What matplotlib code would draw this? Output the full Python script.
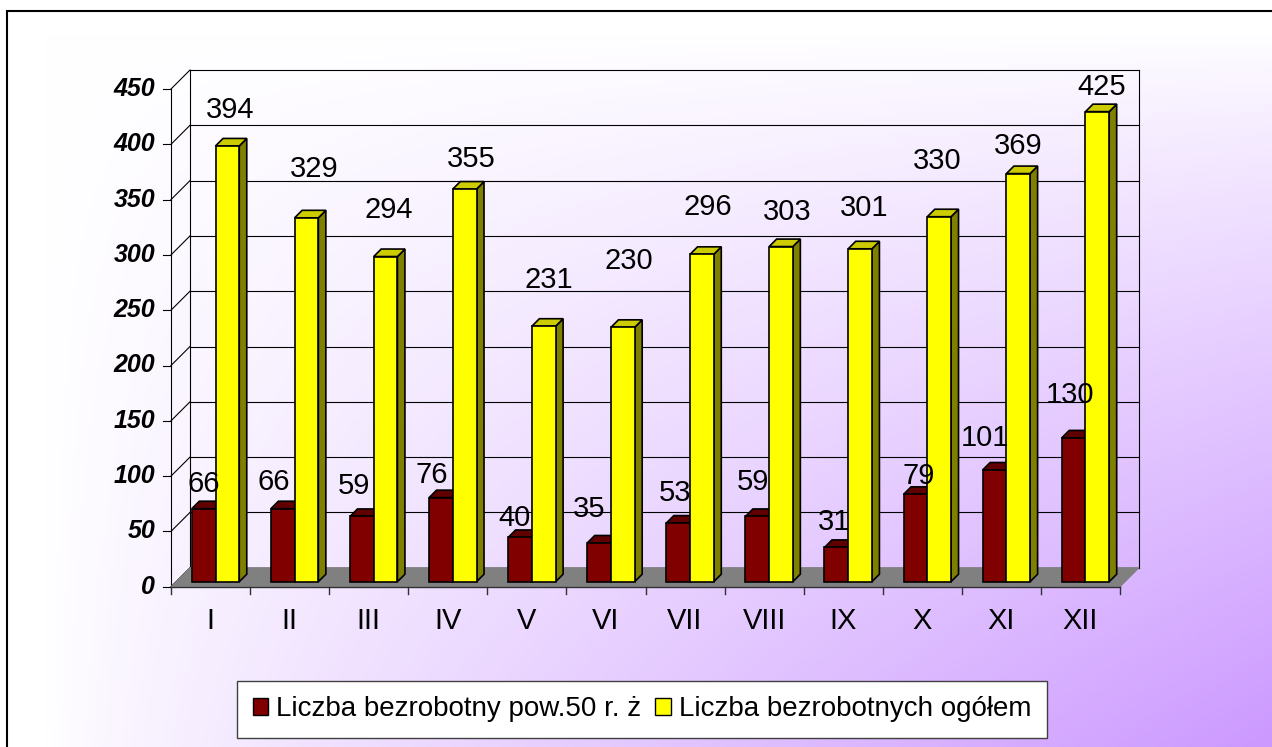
import numpy as np
import matplotlib
matplotlib.use("Agg")
import matplotlib.pyplot as plt
from matplotlib.patches import Polygon, Rectangle
from matplotlib.colors import to_rgb

months = ["I", "II", "III", "IV", "V", "VI", "VII", "VIII", "IX", "X", "XI", "XII"]
over50 = [66, 66, 59, 76, 40, 35, 53, 59, 31, 79, 101, 130]
total = [394, 329, 294, 355, 231, 230, 296, 303, 301, 330, 369, 425]
series_names = ["Liczba bezrobotny pow.50 r. ż", "Liczba bezrobotnych ogółem"]
y_ticks = list(range(0, 451, 50))

# label nudges in pixels: (dx, height of label centre above bar top)
over50_nudge = [(0, 25), (-9, 27), (-8, 30), (-9, 23), (-6, 19), (-10, 34),
                (-3, 30), (-4, 34), (-2, 25), (3, 18), (-10, 32), (-4, 43)]
total_nudge = [(3, 36), (8, 49), (3, 47), (7, 30), (5, 46), (6, 66),
               (6, 47), (6, 35), (4, 41), (-2, 56), (0, 28), (4, 25)]

# front, top, side colours
maroon = ("#800000", "#600000", "#400000")
yellow = ("#ffff00", "#cccc00", "#808000")

plt.rcParams['font.family'] = ['Liberation Sans', 'DejaVu Sans']

W, H = 1272, 747
fig = plt.figure(figsize=(W / 100, H / 100), dpi=100)

# background gradient (white -> lilac in the bottom right corner)
bg = fig.add_axes([40 / W, 0, 1 - 40 / W, (H - 31) / H], zorder=-1)
u = np.linspace(0, 1, 300)[None, :]
v = np.linspace(0, 1, 200)[::-1, None]
t = ((u * v) ** 0.85)[..., None]
white = np.array(to_rgb("#ffffff"))
lilac = np.array(to_rgb("#cc99ff"))
bg.imshow(white * (1 - t) + lilac * t, aspect='auto', extent=(0, 1, 0, 1), origin='lower')
bg.axis('off')

# outer border
fig.patches.append(Rectangle((7 / W, -0.1), 1.2, (H - 11) / H + 0.1, transform=fig.transFigure,
                             fill=False, ec='black', lw=1.5))

n = len(months)
ax_px_w, ax_px_h = 949, 497.7
ax = fig.add_axes([171 / W, (H - 586.7) / H, ax_px_w / W, ax_px_h / H])
ax.set_xlim(0, n)
ax.set_ylim(0, 450)
ax.axis('off')
sx = n / ax_px_w      # data units per pixel
sy = 450 / ax_px_h
DX, DY = 19 * sx, 19 * sy

# back wall and side wall
for val in y_ticks:
    ax.plot([DX, n + DX], [val + DY, val + DY], color='black', lw=0.8, clip_on=False, zorder=1)
    ax.plot([0, DX], [val, val + DY], color='black', lw=0.8, clip_on=False, zorder=1)
    ax.plot([-8 * sx, 0], [val, val], color='black', lw=0.8, clip_on=False, zorder=1)
    ax.text(-16 * sx, val, str(val), ha='right', va='center', fontsize=18,
            weight='bold', style='italic')
ax.plot([DX, DX], [DY, 450 + DY], color='black', lw=0.8, clip_on=False, zorder=1)
ax.plot([n + DX, n + DX], [DY, 450 + DY], color='black', lw=0.8, clip_on=False, zorder=1)
ax.plot([0, 0], [0, 450], color='black', lw=0.8, clip_on=False, zorder=1)

# floor
ax.add_patch(Polygon([(0, 0), (n, 0), (n + DX, DY), (DX, DY)], closed=True,
                     fc='#808080', ec='#808080', lw=0.8, clip_on=False, zorder=2))
ax.plot([0, n], [0, 0], color='#303030', lw=1, clip_on=False, zorder=2)
for i in range(n + 1):
    ax.plot([i, i], [0, -7 * sy], color='#303030', lw=1, clip_on=False, zorder=2)
for i, m in enumerate(months):
    ax.text(i + 0.5, -34 * sy, m, ha='center', va='center', fontsize=21)

# bars
w = 0.3
f0, d = 5, 7.5


def bar3d(x0, val, cols):
    bx, by = x0 + f0 * sx, f0 * sy
    ddx, ddy = d * sx, d * sy
    kw = dict(closed=True, ec='black', lw=1.2, clip_on=False, zorder=3, joinstyle='miter')
    ax.add_patch(Polygon([(bx + w, by), (bx + w + ddx, by + ddy), (bx + w + ddx, by + val + ddy),
                          (bx + w, by + val)], fc=cols[2], **kw))
    ax.add_patch(Polygon([(bx, by + val), (bx + w, by + val), (bx + w + ddx, by + val + ddy),
                          (bx + ddx, by + val + ddy)], fc=cols[1], **kw))
    ax.add_patch(Polygon([(bx, by), (bx + w, by), (bx + w, by + val), (bx, by + val)],
                         fc=cols[0], **kw))
    return bx + w / 2, by + val


for i in range(n):
    for vals, x0, cols, nudge in ((over50, i + 0.5 - w, maroon, over50_nudge),
                                  (total, i + 0.5, yellow, total_nudge)):
        cx, top = bar3d(x0, vals[i], cols)
        ax.text(cx + nudge[i][0] * sx, top + nudge[i][1] * sy, str(vals[i]),
                ha='center', va='center', fontsize=21, zorder=5)

handles = [Rectangle((0, 0), 1, 1, fc=maroon[0], ec='black', lw=1),
           Rectangle((0, 0), 1, 1, fc=yellow[0], ec='black', lw=1)]
leg = fig.legend(handles, series_names, loc='center', bbox_to_anchor=(642 / W, 1 - 709.5 / H),
                 ncol=2, fontsize=20, frameon=True, fancybox=False, edgecolor='#404040',
                 framealpha=1, handlelength=0.55, handleheight=0.55, handletextpad=0.3,
                 columnspacing=0.5, borderpad=0.55)
leg.get_frame().set_linewidth(1)

fig.savefig("out.png", dpi=100)
